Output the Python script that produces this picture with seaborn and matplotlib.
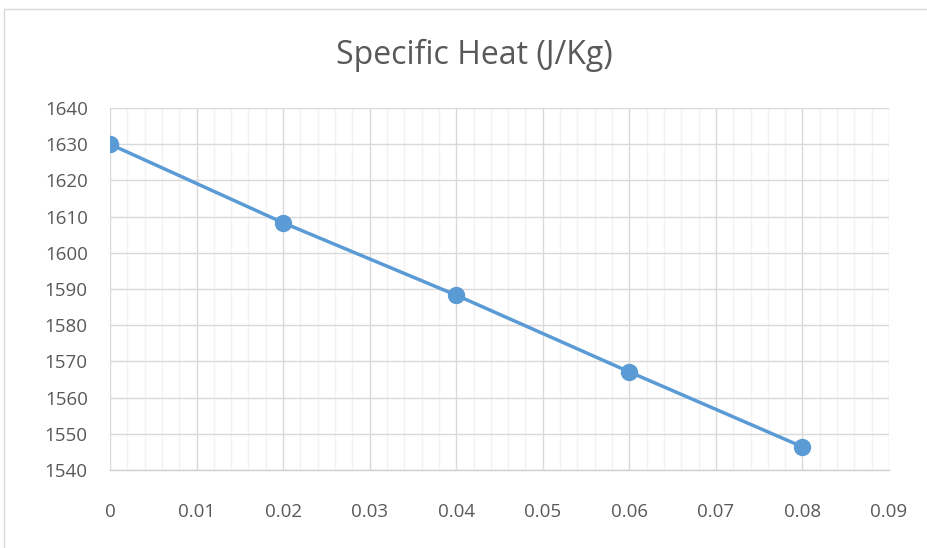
import matplotlib
matplotlib.use("Agg")
import matplotlib.pyplot as plt
import seaborn as sns
import pandas as pd
from matplotlib.ticker import MultipleLocator
from matplotlib.patches import Rectangle

title = "Specific Heat (J/Kg)"
x_values = [0.0, 0.02, 0.04, 0.06, 0.08]
heat_values = [1630.0, 1608.3, 1588.3, 1567.1, 1546.4]
x_ticks = [0, 0.01, 0.02, 0.03, 0.04, 0.05, 0.06, 0.07, 0.08, 0.09]
x_tick_labels = ["0", "0.01", "0.02", "0.03", "0.04", "0.05", "0.06", "0.07", "0.08", "0.09"]
y_ticks = [1540, 1550, 1560, 1570, 1580, 1590, 1600, 1610, 1620, 1630, 1640]

df = pd.DataFrame({"x": x_values, "heat": heat_values})

sns.set_theme(style="white")
plt.rcParams['font.family'] = ['Open Sans', 'DejaVu Sans']

fig = plt.figure(figsize=(9.27, 5.48), dpi=100)
fig.patch.set_facecolor("white")
# outer chart border
fig.patches.append(Rectangle((4/927, -0.05), 1.1, 1 - 9/548 + 0.05, transform=fig.transFigure,
                             fill=False, edgecolor="#D9D9D9", linewidth=1.0))

ax = fig.add_axes([110/927, 1 - 470/548, (889-110)/927, (470-108)/548])

ax.set_xlim(0, 0.09)
ax.set_ylim(1540, 1640)
ax.xaxis.set_minor_locator(MultipleLocator(0.002))
ax.set_xticks(x_ticks)
ax.set_xticklabels(x_tick_labels)
ax.set_yticks(y_ticks)
ax.grid(which="minor", axis="x", color="#F2F2F2", linewidth=1.0)
ax.grid(which="major", axis="both", color="#D9D9D9", linewidth=1.0)
ax.set_axisbelow(True)

sns.lineplot(data=df, x="x", y="heat", ax=ax, color="#5B9BD5", linewidth=2.5,
             marker="o", markersize=11.5, markeredgecolor="#5B9BD5", markeredgewidth=1)

for s in ["top", "right", "left"]:
    ax.spines[s].set_visible(False)
ax.spines["bottom"].set_color("#D0D0D0")
ax.spines["bottom"].set_linewidth(1.0)

ax.tick_params(axis="both", which="both", length=0, labelsize=13.5, colors="#595959")
ax.tick_params(axis="x", pad=24)
ax.tick_params(axis="y", pad=16)
ax.set_xlabel("")
ax.set_ylabel("")

fig.text(474/927, 1 - 55/548, title, ha="center", va="center", fontsize=23,
         color="#595959", fontweight="normal")

fig.savefig("out.png", dpi=100, facecolor="white")
